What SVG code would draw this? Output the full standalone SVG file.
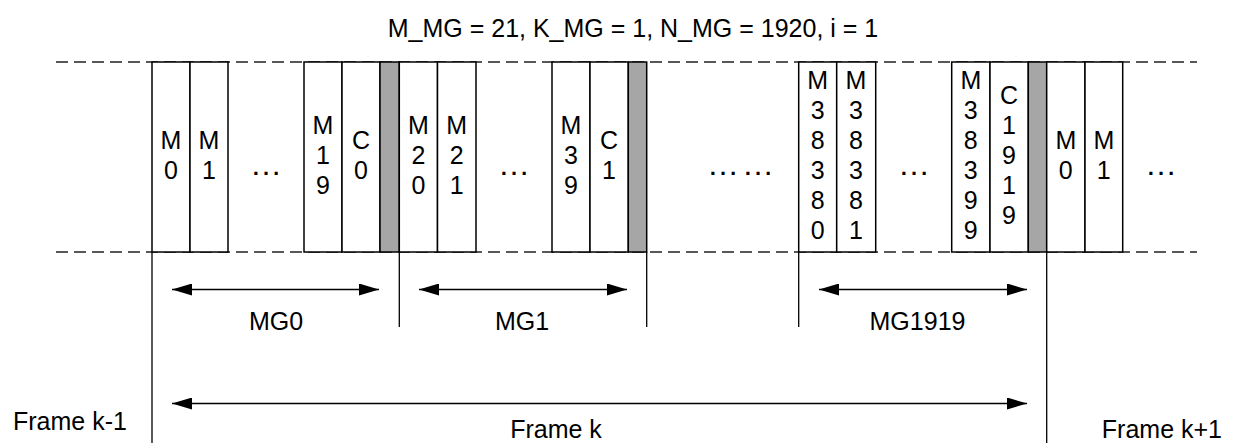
<svg xmlns="http://www.w3.org/2000/svg" width="1233" height="443" viewBox="0 0 1233 443">
<defs>
<style>
text{font-family:"Liberation Sans",Arial,sans-serif;fill:#000}
.lbl{font-size:25px;text-anchor:middle}
.bt{font-size:25px;text-anchor:middle}
.box{fill:#fff;stroke:#000;stroke-width:1.5}
.gray{fill:#a6a6a6;stroke:#000;stroke-width:1.5}
.dash{stroke:#222;stroke-width:1.4;stroke-dasharray:12 6;fill:none}
.ln{stroke:#000;stroke-width:1.3;fill:none}
.arr{stroke:#000;stroke-width:1.5;fill:none;marker-start:url(#ah);marker-end:url(#ah)}
.dots{font-size:32px;text-anchor:middle}
</style>
<marker id="ah" viewBox="0 0 20 12" markerWidth="20" markerHeight="12" refX="20" refY="6" orient="auto-start-reverse" markerUnits="userSpaceOnUse">
<path d="M0,0 L20,6 L0,12 z" fill="#000"/>
</marker>
</defs>
<rect width="1233" height="443" fill="#fff"/>
<text id="title" class="lbl" x="633" y="37">M_MG = 21, K_MG = 1, N_MG = 1920, i = 1</text>
<g id="rails">
<line class="dash" x1="56" y1="62" x2="1197" y2="62"/>
<line class="dash" x1="56" y1="252" x2="1197" y2="252"/>
</g>
<g id="connectors">
<line class="ln" x1="152" y1="252" x2="152" y2="443"/>
<line class="ln" x1="399.3" y1="252" x2="399.3" y2="327"/>
<line class="ln" x1="646.7" y1="252" x2="646.7" y2="327"/>
<line class="ln" x1="798.7" y1="252" x2="798.7" y2="327"/>
<line class="ln" x1="1046.7" y1="252" x2="1046.7" y2="443"/>
<line class="arr" x1="172" y1="289.5" x2="379" y2="289.5"/>
<line class="arr" x1="419" y1="289.5" x2="627" y2="289.5"/>
<line class="arr" x1="819" y1="289.5" x2="1027" y2="289.5"/>
<line class="arr" x1="172" y1="403.5" x2="1027" y2="403.5"/>
</g>
<g id="M0"><rect class="box" x="152" y="62" width="38" height="190"/><text class="bt" x="171" y="149"><tspan x="171">M</tspan><tspan x="171" dy="30">0</tspan></text></g>
<g id="M1"><rect class="box" x="190" y="62" width="38" height="190"/><text class="bt" x="209" y="149"><tspan x="209">M</tspan><tspan x="209" dy="30">1</tspan></text></g>
<text id="dots1" class="dots" x="266" y="175">…</text>
<g id="M19"><rect class="box" x="304" y="62" width="38" height="190"/><text class="bt" x="323" y="134"><tspan x="323">M</tspan><tspan x="323" dy="30">1</tspan><tspan x="323" dy="30">9</tspan></text></g>
<g id="C0"><rect class="box" x="342" y="62" width="38" height="190"/><text class="bt" x="361" y="149"><tspan x="361">C</tspan><tspan x="361" dy="30">0</tspan></text></g>
<g id="G0"><rect class="gray" x="380" y="62" width="19.3" height="190"/></g>
<g id="M20"><rect class="box" x="399.3" y="62" width="38.2" height="190"/><text class="bt" x="418.4" y="134"><tspan x="418.4">M</tspan><tspan x="418.4" dy="30">2</tspan><tspan x="418.4" dy="30">0</tspan></text></g>
<g id="M21"><rect class="box" x="437.5" y="62" width="38.5" height="190"/><text class="bt" x="456.7" y="134"><tspan x="456.7">M</tspan><tspan x="456.7" dy="30">2</tspan><tspan x="456.7" dy="30">1</tspan></text></g>
<text id="dots2" class="dots" x="514" y="175">…</text>
<g id="M39"><rect class="box" x="552" y="62" width="38" height="190"/><text class="bt" x="571" y="134"><tspan x="571">M</tspan><tspan x="571" dy="30">3</tspan><tspan x="571" dy="30">9</tspan></text></g>
<g id="C1"><rect class="box" x="590" y="62" width="38.3" height="190"/><text class="bt" x="609" y="149"><tspan x="609">C</tspan><tspan x="609" dy="30">1</tspan></text></g>
<g id="G1"><rect class="gray" x="628.3" y="62" width="18.4" height="190"/></g>
<text id="dots3" class="dots" x="742" y="175" letter-spacing="3">……</text>
<g id="M38380"><rect class="box" x="798.7" y="62" width="38" height="190"/><text class="bt" x="817.7" y="89"><tspan x="817.7">M</tspan><tspan x="817.7" dy="30">3</tspan><tspan x="817.7" dy="30">8</tspan><tspan x="817.7" dy="30">3</tspan><tspan x="817.7" dy="30">8</tspan><tspan x="817.7" dy="30">0</tspan></text></g>
<g id="M38381"><rect class="box" x="836.7" y="62" width="39" height="190"/><text class="bt" x="856" y="89"><tspan x="856">M</tspan><tspan x="856" dy="30">3</tspan><tspan x="856" dy="30">8</tspan><tspan x="856" dy="30">3</tspan><tspan x="856" dy="30">8</tspan><tspan x="856" dy="30">1</tspan></text></g>
<text id="dots4" class="dots" x="914" y="175">…</text>
<g id="M38399"><rect class="box" x="951.7" y="62" width="38.3" height="190"/><text class="bt" x="970.8" y="89"><tspan x="970.8">M</tspan><tspan x="970.8" dy="30">3</tspan><tspan x="970.8" dy="30">8</tspan><tspan x="970.8" dy="30">3</tspan><tspan x="970.8" dy="30">9</tspan><tspan x="970.8" dy="30">9</tspan></text></g>
<g id="C1919"><rect class="box" x="990" y="62" width="38.3" height="190"/><text class="bt" x="1009" y="104"><tspan x="1009">C</tspan><tspan x="1009" dy="30">1</tspan><tspan x="1009" dy="30">9</tspan><tspan x="1009" dy="30">1</tspan><tspan x="1009" dy="30">9</tspan></text></g>
<g id="G1919"><rect class="gray" x="1028.3" y="62" width="18.4" height="190"/></g>
<g id="M0b"><rect class="box" x="1046.7" y="62" width="38.3" height="190"/><text class="bt" x="1065.8" y="149"><tspan x="1065.8">M</tspan><tspan x="1065.8" dy="30">0</tspan></text></g>
<g id="M1b"><rect class="box" x="1085" y="62" width="37.7" height="190"/><text class="bt" x="1103.8" y="149"><tspan x="1103.8">M</tspan><tspan x="1103.8" dy="30">1</tspan></text></g>
<text id="dots5" class="dots" x="1161" y="175">…</text>
<g id="labels">
<text class="lbl" x="276" y="330">MG0</text>
<text class="lbl" x="522" y="330">MG1</text>
<text class="lbl" x="917.5" y="330">MG1919</text>
<text class="lbl" x="556" y="438">Frame k</text>
<text x="13" y="430" style="font-size:25px">Frame k-1</text>
<text x="1222" y="438" style="font-size:25px;text-anchor:end">Frame k+1</text>
</g>
</svg>
